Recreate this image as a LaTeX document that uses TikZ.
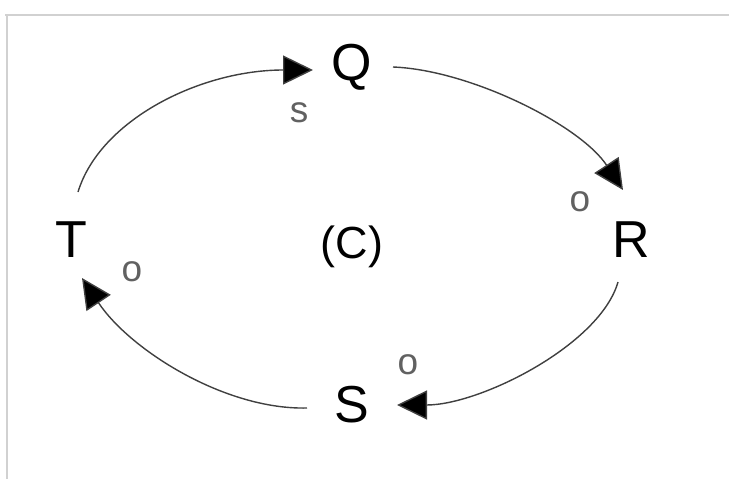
\documentclass[tikz,border=0pt]{standalone}
\usepackage{fontspec}
\setmainfont{Liberation Sans}
\usetikzlibrary{arrows.meta}
\tikzset{
  var/.style={anchor=base, inner sep=0pt, font=\fontsize{52}{52}\selectfont},
  pol/.style={anchor=base, inner sep=0pt, text=black!62, font=\fontsize{37}{37}\selectfont},
  link/.style={draw=black!75, line width=1.4pt, -{Triangle[length=30pt,width=29pt,fill=black]}},
  frameline/.style={draw=black!18, line width=2pt}
}
\begin{document}
\begin{tikzpicture}[x=1pt,y=-1pt]
\useasboundingbox (0,0) rectangle (729,479);
\fill[white] (0,0) rectangle (729,479);
\draw[frameline] (5,15) -- (729,15);
\draw[frameline] (7,15) -- (7,479);
% variables
\node[var] (Q) at (352,80) {Q};
\node[var] (R) at (631,257) {R};
\node[var] (S) at (352,422) {S};
\node[var] (T) at (71.5,257) {T};
\node[anchor=base, inner sep=0pt, font=\fontsize{45}{45}\selectfont] (C) at (352,258) {(C)};
% polarity labels
\node[pol] (ps) at (299,122) {s};
\node[pol] (po1) at (580,211) {o};
\node[pol] (po2) at (408,374) {o};
\node[pol] (po3) at (132,281) {o};
% links
\draw[link] ([shift={(6.5,-65)}]T.base) .. controls (100,120) and (200,70) .. ([shift={(-39,-10)}]Q.base);
\draw[link] ([shift={(41,-13)}]Q.base) .. controls (470,70) and (580,125) .. ([shift={(-8,-67)}]R.base);
\draw[link] ([shift={(-13,25)}]R.base) .. controls (600,345) and (480,405) .. ([shift={(45,-17)}]S.base);
\draw[link] ([shift={(-45,-14)}]S.base) .. controls (225,410) and (130,350) .. ([shift={(10.5,21)}]T.base);
\end{tikzpicture}
\end{document}
